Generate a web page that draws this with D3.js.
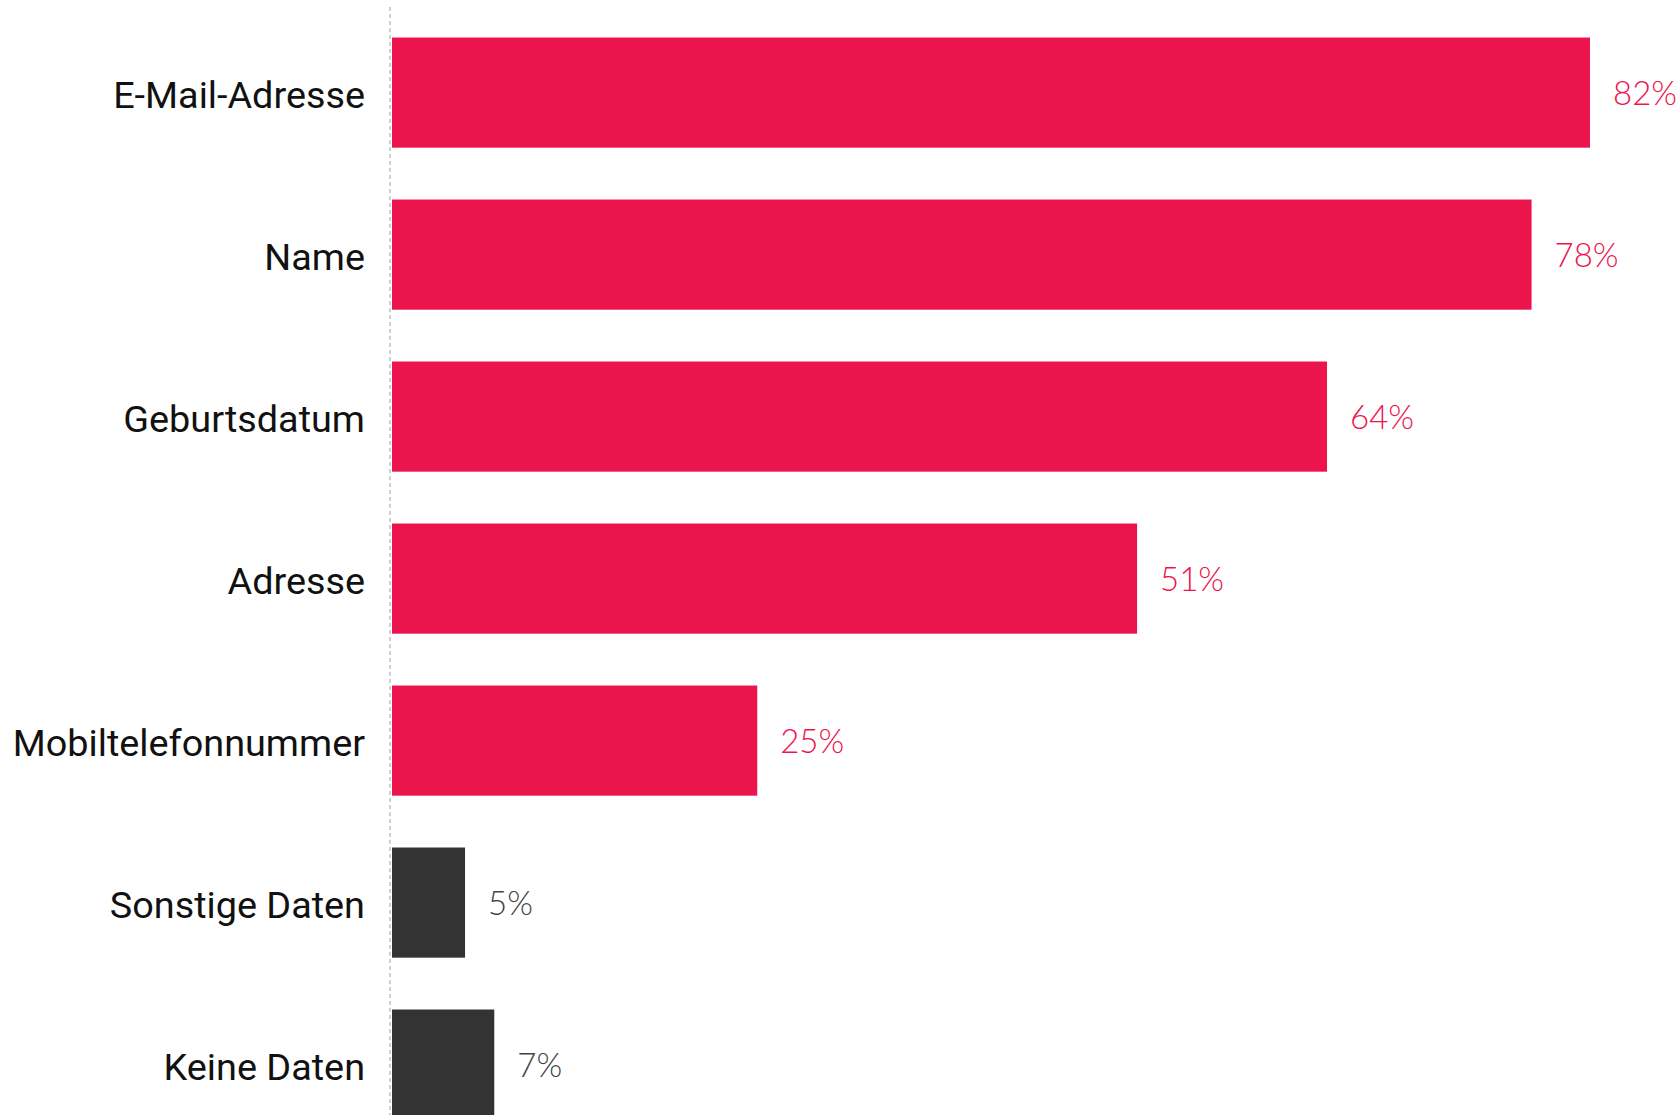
<!DOCTYPE html>
<html>
<head>
<meta charset="utf-8">
<script src="https://cdn.jsdelivr.net/npm/d3@7"></script>
<style>
  html, body { margin: 0; padding: 0; background: #fff; }
  svg { display: block; }
</style>
</head>
<body>
<svg id="chart" width="1678" height="1115"></svg>
<script>
// Welche Daten werden abgefragt – Anteile in Prozent
const categories = ["E-Mail-Adresse", "Name", "Geburtsdatum", "Adresse", "Mobiltelefonnummer", "Sonstige Daten", "Keine Daten"];
const values = [82, 78, 64, 51, 25, 5, 7];
const groups = ["data", "data", "data", "data", "data", "other", "other"];

const colors = { data: "#EC144D", other: "#333333" };
const labelColors = { data: "#EC144D", other: "#444444" };

const svg = d3.select("#chart");
const W = 1678, H = 1115;
const x0 = 392;

const x = d3.scaleLinear().domain([0, 82]).range([x0, 1590]);
const y = d3.scaleBand()
  .domain(categories)
  .range([11.6, 11.6 + 162 * 7])
  .paddingInner(0.32)
  .paddingOuter(0.16);

const rows = categories.map((c, i) => ({ cat: c, value: values[i], group: groups[i] }));

// Bars
svg.append("g").selectAll("rect")
  .data(rows)
  .join("rect")
  .attr("x", x(0))
  .attr("y", d => y(d.cat))
  .attr("width", d => x(d.value) - x(0))
  .attr("height", y.bandwidth())
  .attr("fill", d => colors[d.group]);

// Dashed baseline
svg.append("line")
  .attr("x1", x0 - 2).attr("x2", x0 - 2)
  .attr("y1", 7).attr("y2", H)
  .attr("stroke", "#cfcfcf")
  .attr("stroke-width", 2)
  .attr("stroke-dasharray", "4,3");

// Category labels
const yAxis = d3.axisLeft(y).tickSize(0).tickPadding(0);
const ax = svg.append("g")
  .attr("transform", `translate(365,0)`)
  .call(yAxis);
ax.select(".domain").remove();
ax.selectAll("text")
  .attr("font-family", "Roboto, 'Liberation Sans', sans-serif")
  .attr("font-size", 37.8)
  .attr("fill", "#111")
  .attr("dy", "0.41em");

// Value labels
svg.append("g").selectAll("text")
  .data(rows)
  .join("text")
  .attr("x", d => x(d.value) + 23)
  .attr("y", d => y(d.cat) + y.bandwidth() / 2)
  .attr("dy", "0.38em")
  .attr("font-family", "Lato, 'Open Sans', sans-serif")
  .attr("font-weight", 300)
  .attr("font-size", 33)
  .attr("fill", d => labelColors[d.group])
  .text(d => d.value + "%");
</script>
</body>
</html>
